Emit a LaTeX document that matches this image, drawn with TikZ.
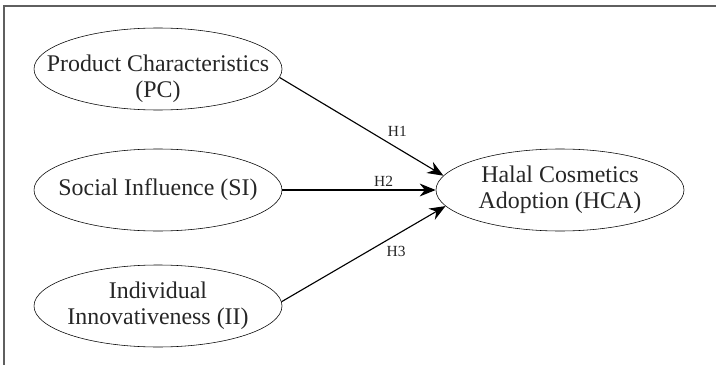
\documentclass[tikz,border=0pt]{standalone}
\usepackage{fontspec}
\setmainfont{Liberation Serif}
\usepackage{tikz}
\usetikzlibrary{shapes}
\usetikzlibrary{arrows.meta}
\tikzset{construct/.style={shape=ellipse,draw=black,align=center,inner xsep=-0.7cm,inner ysep=-0.3cm,minimum width=6.2cm,minimum height=2.05cm,font=\fontsize{17}{18.5}\selectfont,text=black!85}}
\tikzset{hypo/.style={font=\fontsize{11}{12}\selectfont,text=black!85,inner sep=2pt}}
\tikzset{hpath/.style={draw=black,line width=0.8pt,-{Stealth[length=4mm,width=3.2mm]}}}

\begin{document}
\begin{tikzpicture}

\useasboundingbox (0,0) rectangle (17.9,-9.125);

		\definecolor{rahmengrau}{RGB}{95,95,95}
	\draw[rahmengrau, line width=0.9pt] (0.1,-9.125) -- (0.1,-0.15) -- (17.9,-0.15);

%	\draw [thick, dotted] (0.1,-0.15) rectangle (17.9,-9.125);

\draw (3.95,-1.725) node[construct] (pc) {\rule{0pt}{0.9cm}Product Characteristics\\(PC)};

\draw (3.95,-4.75) node[construct] (si) {Social Influence (SI)};

\draw (3.95,-7.65) node[construct] (ii) {Individual\\Innovativeness (II)};

\draw (14,-4.75) node[construct] (hca) {Halal Cosmetics\\Adoption (HCA)};



				\draw [hpath] (pc.-4) -- (hca.173) node[hypo, pos=0.64, above right] {H1};
				
				\draw [hpath] (si.east) -- (hca.west) node[hypo, pos=0.66, above] {H2};
				
				\draw [hpath] (ii.2) -- (hca.188) node[hypo, pos=0.62, below right] {H3};

		\end{tikzpicture}
\end{document}
